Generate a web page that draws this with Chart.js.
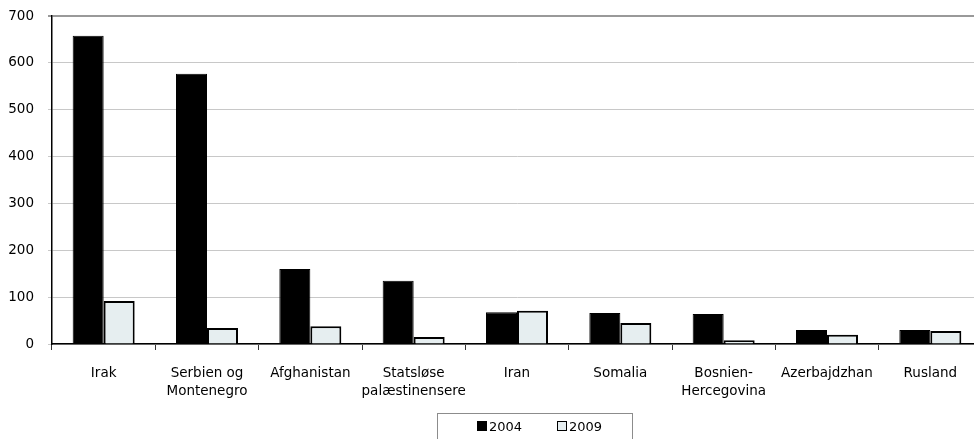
<!DOCTYPE html>
<html>
<head>
<meta charset="utf-8">
<script src="https://cdn.jsdelivr.net/npm/chart.js@4.4.1/dist/chart.umd.min.js"></script>
<style>
  html, body { margin: 0; padding: 0; background: #fff; overflow: hidden; }
  #wrap { position: relative; width: 982px; height: 439px; }
  #legend {
    position: absolute; left: 437px; top: 413px; width: 196px; height: 30px;
    border: 1px solid #8c8c8c; box-sizing: border-box;
    font: 13px "DejaVu Sans", sans-serif; color: #000;
  }
  #legend .item { position: absolute; top: 6px; line-height: 14px; }
  #legend .sw { display: inline-block; width: 8px; height: 8px; margin-right: 2px; vertical-align: 0; }
</style>
</head>
<body>
<div id="wrap">
  <canvas id="c" width="982" height="439"></canvas>
  <div id="legend">
    <span class="item" style="left:39px"><span class="sw" style="background:#000;border:1px solid #000"></span>2004</span>
    <span class="item" style="left:119px"><span class="sw" style="background:#e6eef0;border:1px solid #000"></span>2009</span>
  </div>
</div>
<script>
// Asylansøgere fra de største nationaliteter, 2004 og 2009
const categories = [
  'Irak',
  ['Serbien og', 'Montenegro'],
  'Afghanistan',
  ['Statsløse', 'palæstinensere'],
  'Iran',
  'Somalia',
  ['Bosnien-', 'Hercegovina'],
  'Azerbajdzhan',
  'Rusland'
];
const values2004 = [658, 577, 160, 135, 68, 66, 64, 30, 30];
const values2009 = [92, 34, 38, 15, 71, 45, 8, 20, 28];
const yTicks = [0, 100, 200, 300, 400, 500, 600, 700];

const font = { family: "'DejaVu Sans', sans-serif", size: 13.5 };

new Chart(document.getElementById('c'), {
  type: 'bar',
  data: {
    labels: categories,
    datasets: [
      { label: '2004', data: values2004, backgroundColor: '#000', borderColor: '#000', borderWidth: 1 },
      { label: '2009', data: values2009, backgroundColor: '#e6eef0', borderColor: '#000', borderWidth: 2 }
    ]
  },
  options: {
    responsive: false,
    animation: false,
    layout: { padding: { top: 16, left: 0, right: 0, bottom: 0 } },
    datasets: { bar: { categoryPercentage: 0.6, barPercentage: 1 } },
    plugins: { legend: { display: false }, tooltip: { enabled: false } },
    scales: {
      x: {
        grid: { offset: true, drawOnChartArea: false, color: '#333', tickLength: 6 },
        border: { color: '#000', width: 1.5 },
        ticks: { color: '#000', font: { ...font, lineHeight: 1.3 }, padding: 15, maxRotation: 0, autoSkip: false },
        afterFit: s => { s.height = 95; }
      },
      y: {
        min: 0, max: 700,
        afterBuildTicks: s => { s.ticks = yTicks.map(v => ({ value: v })); },
        grid: {
          color: c => c.tick && c.tick.value === 700 ? '#999' : '#c8c8c8',
          lineWidth: c => c.tick && c.tick.value === 700 ? 2 : 1,
          tickLength: 4
        },
        border: { color: '#000', width: 1.5 },
        ticks: { color: '#000', font: { ...font, size: 13.5 }, padding: 14 },
        afterFit: s => { s.width = 52; s.paddingTop = 0; s.paddingBottom = 0; }
      }
    }
  }
});
</script>
</body>
</html>
